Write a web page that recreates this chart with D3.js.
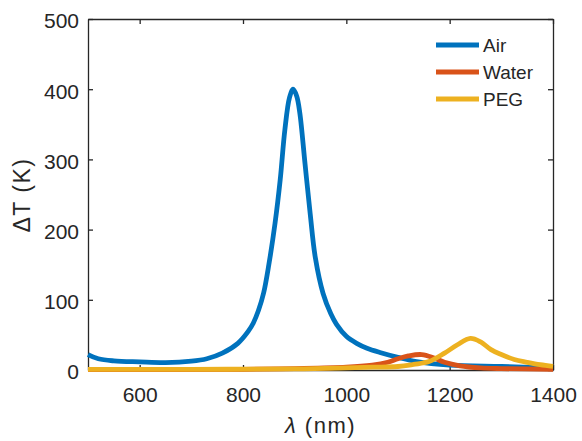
<!DOCTYPE html>
<html>
<head>
<meta charset="utf-8">
<script src="https://cdn.jsdelivr.net/npm/d3@7"></script>
<style>
  body { margin: 0; background: #fff; }
  text { font-family: "Liberation Sans", Arial, Helvetica, sans-serif; fill: #262626; }
</style>
</head>
<body>
<div id="chart"></div>
<script>
// wavelength (nm) / temperature rise (K) pairs
var airLambda = [500, 520, 550, 600, 650, 700, 730, 760, 790, 810, 820, 830, 840, 850, 862, 872, 881, 890, 897, 904, 910, 920, 930, 940, 955, 970, 981, 1000, 1020, 1040, 1065, 1100, 1136, 1200, 1300, 1400];
var airDT = [22, 16, 13, 11.5, 10.5, 12.5, 16, 24, 38, 55, 67, 85, 110, 150, 209, 271, 342, 388, 400, 390, 366, 294, 223, 160, 109, 80, 65, 48, 38, 31, 25, 18, 12, 7, 5, 3];

var waterLambda = [500, 800, 900, 1000, 1050, 1080, 1100, 1120, 1146, 1170, 1190, 1220, 1260, 1300, 1400];
var waterDT = [0.5, 1, 2, 4, 7, 11, 16, 20, 22, 17, 11, 6, 3, 2, 1];

var pegLambda = [500, 700, 900, 1000, 1050, 1100, 1130, 1160, 1190, 1215, 1240, 1260, 1280, 1300, 1325, 1350, 1375, 1400];
var pegDT = [1, 1, 1.5, 3, 4, 5, 8, 12, 24, 36, 45, 40, 29, 22, 15, 11, 7.5, 5];

var seriesNames = ['Air', 'Water', 'PEG'];
var seriesColors = ['#0072BD', '#D95319', '#EDB120'];

var xTicks = [600, 800, 1000, 1200, 1400];
var yTicks = [0, 100, 200, 300, 400, 500];

var WIDTH = 582, HEIGHT = 441;
var margin = { left: 88, right: 29, top: 19, bottom: 71 };

var svg = d3.select('#chart').append('svg')
  .attr('width', WIDTH)
  .attr('height', HEIGHT);

var x = d3.scaleLinear().domain([500, 1400]).range([margin.left, WIDTH - margin.right]);
var y = d3.scaleLinear().domain([0, 500]).range([HEIGHT - margin.bottom, margin.top]);

var axisColor = '#262626';
var fmt = d3.format('d');

// axes (ticks point inward, box on)
var gx = svg.append('g').attr('transform', 'translate(0,' + y(0) + ')')
  .call(d3.axisBottom(x).tickValues(xTicks).tickFormat(fmt).tickSizeInner(-5).tickSizeOuter(0).tickPadding(17));
var gy = svg.append('g').attr('transform', 'translate(' + x(500) + ',0)')
  .call(d3.axisLeft(y).tickValues(yTicks).tickFormat(fmt).tickSizeInner(-5).tickSizeOuter(0).tickPadding(9));
var gxt = svg.append('g').attr('transform', 'translate(0,' + y(500) + ')')
  .call(d3.axisTop(x).tickValues(xTicks).tickSizeInner(-5).tickSizeOuter(0).tickFormat(''));
var gyr = svg.append('g').attr('transform', 'translate(' + x(1400) + ',0)')
  .call(d3.axisRight(y).tickValues(yTicks).tickSizeInner(-5).tickSizeOuter(0).tickFormat(''));

[gx, gy, gxt, gyr].forEach(function(g) {
  g.select('.domain').attr('stroke', axisColor).attr('stroke-width', 1.3);
  g.selectAll('.tick line').attr('stroke', axisColor).attr('stroke-width', 1.3);
  g.selectAll('.tick text').attr('font-size', '21px').attr('fill', axisColor)
    .attr('font-family', '"Liberation Sans", Arial, sans-serif');
});
gy.selectAll('.tick text').attr('dy', '0.42em');

// data lines
var series = [
  d3.zip(airLambda, airDT),
  d3.zip(waterLambda, waterDT),
  d3.zip(pegLambda, pegDT)
];

var line = d3.line()
  .x(function(d) { return x(d[0]); })
  .y(function(d) { return y(d[1]); })
  .curve(d3.curveCatmullRom.alpha(0.5));

svg.selectAll('path.series')
  .data(series)
  .enter()
  .append('path')
  .attr('class', 'series')
  .attr('fill', 'none')
  .attr('stroke', function(d, i) { return seriesColors[i]; })
  .attr('stroke-width', 4.8)
  .attr('stroke-linejoin', 'round')
  .attr('d', line);

// legend
var legend = svg.append('g').attr('transform', 'translate(436,45)');
seriesNames.forEach(function(name, i) {
  legend.append('line')
    .attr('x1', 0).attr('x2', 43)
    .attr('y1', i * 27).attr('y2', i * 27)
    .attr('stroke', seriesColors[i])
    .attr('stroke-width', 4.8);
  legend.append('text')
    .attr('x', 47).attr('y', i * 27)
    .attr('dy', '0.36em')
    .attr('font-size', '19px')
    .attr('fill', '#000')
    .text(name);
});

// axis labels
svg.append('text')
  .attr('transform', 'translate(30,195) rotate(-90)')
  .attr('text-anchor', 'middle')
  .attr('font-size', '23px')
  .attr('letter-spacing', '1.5px')
  .text('\u0394T (K)');

var xl = svg.append('text')
  .attr('x', (x(500) + x(1400)) / 2)
  .attr('y', 433)
  .attr('text-anchor', 'middle')
  .attr('font-size', '22px')
  .attr('letter-spacing', '1.5px');
xl.append('tspan').attr('font-style', 'italic').text('\u03bb');
xl.append('tspan').text(' (nm)');
</script>
</body>
</html>
